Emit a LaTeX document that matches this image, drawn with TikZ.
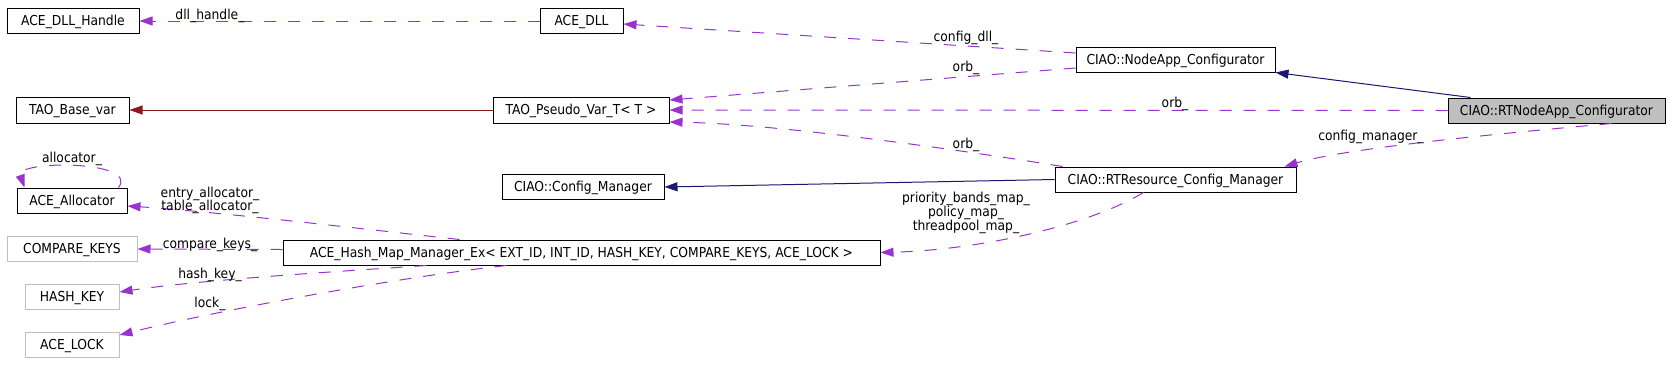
\documentclass[tikz,border=0pt]{standalone}
\usepackage{fontspec}
\setmainfont{DejaVu Sans Condensed}
\usetikzlibrary{arrows.meta}
\definecolor{usecol}{HTML}{9A32CD}
\definecolor{pubcol}{HTML}{191970}
\definecolor{privcol}{HTML}{8B1A1A}
\definecolor{greyline}{HTML}{BFBFBF}
\definecolor{greyfill}{HTML}{BFBFBF}
\tikzset{
  cls/.style={draw=black, line width=1pt, fill=white, inner sep=0pt, minimum height=25pt,
    text height=10pt, text depth=1pt, font=\fontsize{13.7}{14}\selectfont},
  ext/.style={cls, draw=greyline},
  cur/.style={cls, fill=greyfill},
  lbl/.style={inner sep=0pt, anchor=base, font=\fontsize{13.7}{14}\selectfont},
  tip/.style={-{Triangle[length=13pt,width=9pt]}},
  uses/.style={tip, draw=usecol, line width=1pt, dash pattern=on 12pt off 12pt},
  pubinh/.style={tip, draw=pubcol, line width=1pt},
  privinh/.style={tip, draw=privcol, line width=1pt}
}
\begin{document}
\begin{tikzpicture}[x=1pt,y=-1pt]
\useasboundingbox (0,0) rectangle (1669,373);
% nodes
\node[cls, minimum width=132pt] (dllh) at (73,21) {ACE\_DLL\_Handle};
\node[cls, minimum width=83pt] (dll) at (581.5,21) {ACE\_DLL};
\node[cls, minimum width=113pt, minimum height=26pt] (taobase) at (72.5,110) {TAO\_Base\_var};
\node[cls, minimum width=176pt, minimum height=26pt] (tao) at (581,110) {TAO\_Pseudo\_Var\_T< T >};
\node[cls, minimum width=199pt] (nodeapp) at (1175.5,59.5) {CIAO::NodeApp\_Configurator};
\node[cur, minimum width=217pt] (rtnode) at (1556.5,110.5) {CIAO::RTNodeApp\_Configurator};
\node[cls, minimum width=162pt] (cfgmgr) at (583,187) {CIAO::Config\_Manager};
\node[cls, minimum width=241pt] (rtres) at (1175.5,179.5) {CIAO::RTResource\_Config\_Manager};
\node[cls, minimum width=110pt] (alloc) at (72,200.5) {ACE\_Allocator};
\node[ext, minimum width=130pt] (cmp) at (72,249) {COMPARE\_KEYS};
\node[cls, minimum width=597pt] (hash) at (581.5,252.5) {ACE\_Hash\_Map\_Manager\_Ex< EXT\_ID, INT\_ID, HASH\_KEY, COMPARE\_KEYS, ACE\_LOCK >};
\node[ext, minimum width=94pt] (hashkey) at (72,296.5) {HASH\_KEY};
\node[ext, minimum width=94pt] (acelock) at (72,344.5) {ACE\_LOCK};
% edges
\draw[uses] (dll.west) -- (dllh.east);
\node[lbl] (l1) at (210,19) {dll\_handle\_};
\draw[privinh] (tao.west) -- (taobase.east);
\draw[uses] ([yshift=6.5pt]nodeapp.west) -- ([yshift=-3pt]dll.east);
\node[lbl] (l2) at (966,41) {config\_dll\_};
\draw[uses] ([yshift=-8.5pt]nodeapp.west) -- ([yshift=10pt]tao.east);
\node[lbl] (l3) at (966,71) {orb\_};
\draw[uses] (rtnode.west) -- (tao.east);
\node[lbl] (l4) at (1175,107) {orb\_};
\draw[uses] ([xshift=8pt]rtres.north west) .. controls (960,150) and (780,124) .. ([yshift=-12pt]tao.east);
\node[lbl] (l5) at (966,148) {orb\_};
\draw[pubinh] ([xshift=23pt]rtnode.north west) -- (nodeapp.south east);
\draw[uses] ([xshift=-54pt]rtnode.south east) .. controls (1460,137) and (1340,150) .. ([xshift=-12pt]rtres.north east);
\node[lbl] (l6) at (1371,140) {config\_manager\_};
\draw[pubinh] (rtres.west) -- (cfgmgr.east);
\draw[uses] ([xshift=-32pt]rtres.south) .. controls (1090,225) and (980,250) .. (hash.east);
\node[lbl] (l7a) at (966,202) {priority\_bands\_map\_};
\node[lbl] (l7b) at (966,216) {policy\_map\_};
\node[lbl] (l7c) at (966,230) {threadpool\_map\_};
\draw[uses] ([xshift=-9pt]alloc.north east) .. controls (140,160) and (15,160) .. ([xshift=8pt]alloc.north west);
\node[lbl] (l8) at (72,162) {allocator\_};
\draw[uses] ([xshift=-122pt]hash.north) .. controls (390,232) and (220,212) .. ([yshift=-5.5pt]alloc.east);
\node[lbl] (l9a) at (210,197) {entry\_allocator\_};
\node[lbl] (l9b) at (210,210) {table\_allocator\_};
\draw[uses] ([yshift=3pt]hash.west) -- (cmp.east);
\node[lbl] (l10) at (210,248) {compare\_keys\_};
\draw[uses] ([xshift=-155pt]hash.south) .. controls (330,272) and (200,280) .. ([yshift=4.5pt]hashkey.east);
\node[lbl] (l11) at (210,278) {hash\_key\_};
\draw[uses] ([xshift=-75pt]hash.south) .. controls (400,277) and (220,310) .. ([yshift=9.5pt]acelock.east);
\node[lbl] (l12) at (210,307) {lock\_};
\end{tikzpicture}
\end{document}
